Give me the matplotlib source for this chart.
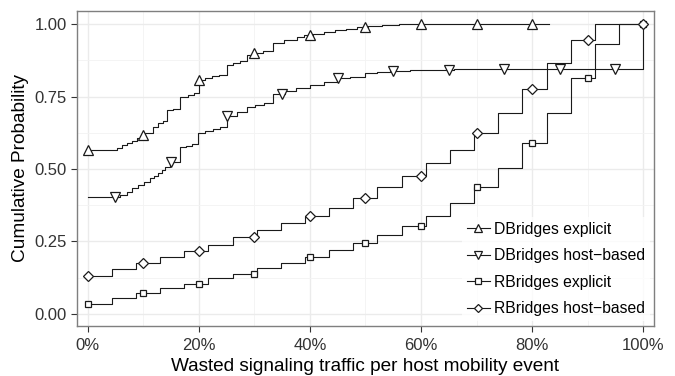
import numpy as np
import matplotlib
matplotlib.use("Agg")
import matplotlib.pyplot as plt
from matplotlib.ticker import MultipleLocator, FuncFormatter

plt.rcParams['font.family'] = ['Liberation Sans', 'DejaVu Sans']

# ---- data (percent on x, cumulative probability on y; post-step) ----
x_de = [0, 4.3, 5.2, 6.1, 7.0, 7.9, 8.8, 9.6, 10.4, 11.7, 12.6, 13.5, 14.3, 15.4, 16.6,
        18.0, 19.2, 20.0, 21.2, 22.3, 23.6, 25.0, 26.2, 27.4, 28.6, 30.0, 31.6, 33.4,
        35.4, 37.6, 39.0, 40.5, 42.5, 44.5, 46.5, 48.5, 50.5, 53.0, 56.0, 83.1]
y_de = [0.566, 0.566, 0.574, 0.582, 0.590, 0.598, 0.606, 0.616, 0.626, 0.644, 0.660, 0.666,
        0.704, 0.708, 0.748, 0.756, 0.764, 0.806, 0.814, 0.822, 0.826, 0.859, 0.866, 0.872,
        0.895, 0.902, 0.909, 0.937, 0.945, 0.957, 0.963, 0.968, 0.975, 0.980, 0.985, 0.990,
        0.994, 0.997, 1.0, 1.0]

x_dh = [0, 5.8, 7.0, 8.0, 9.1, 10.2, 11.2, 12.0, 12.7, 13.3, 13.9, 14.8, 16.6, 17.7, 18.8,
        19.9, 21.2, 22.5, 23.8, 25.0, 26.8, 28.6, 30.2, 31.8, 33.4, 35.5, 37.5, 40.0, 42.5,
        44.8, 47.3, 49.9, 52.0, 54.4, 58.0, 62.0, 66.0, 100.0]
y_dh = [0.403, 0.410, 0.422, 0.433, 0.445, 0.456, 0.468, 0.477, 0.486, 0.497, 0.508, 0.526,
        0.577, 0.581, 0.585, 0.624, 0.632, 0.640, 0.647, 0.683, 0.697, 0.715, 0.722, 0.729,
        0.759, 0.770, 0.780, 0.790, 0.802, 0.813, 0.818, 0.833, 0.836, 0.839, 0.841, 0.843,
        0.844, 1.0]

x_r = [0, 4.35, 8.70, 13.04, 17.39, 21.74, 26.09, 30.43, 34.78, 39.13, 43.48, 47.83, 52.17,
       56.52, 60.87, 65.22, 69.57, 73.91, 78.26, 82.61, 86.96, 91.30, 95.65, 100.0]
y_re = [0.034, 0.056, 0.071, 0.088, 0.104, 0.123, 0.139, 0.157, 0.177, 0.198, 0.221, 0.244,
        0.272, 0.304, 0.339, 0.384, 0.437, 0.503, 0.589, 0.695, 0.816, 0.931, 1.0, 1.0]
y_rh = [0.132, 0.155, 0.175, 0.195, 0.218, 0.238, 0.264, 0.290, 0.315, 0.338, 0.365, 0.400,
        0.439, 0.476, 0.520, 0.566, 0.624, 0.693, 0.776, 0.867, 0.946, 1.0, 1.0, 1.0]

mk_de = [0, 10, 20, 30, 40, 50, 60, 70, 80]
mk_dh = [5, 15, 25, 35, 45, 55, 65, 75, 85, 95]
mk_r = [0, 10, 20, 30, 40, 50, 60, 70, 80, 90, 100]

labels = ["DBridges explicit", "DBridges host\u2212based", "RBridges explicit", "RBridges host\u2212based"]
x_ticks = [0, 20, 40, 60, 80, 100]
y_ticks = [0.0, 0.25, 0.5, 0.75, 1.0]

series = [
    (x_de, y_de, mk_de, '^', 7.5),
    (x_dh, y_dh, mk_dh, 'v', 7.5),
    (x_r, y_re, mk_r, 's', 5.0),
    (x_r, y_rh, mk_r, 'D', 5.5),
]

fig = plt.figure(figsize=(6.75, 3.76), dpi=100)
ax = fig.add_axes([76.7/675, 1-326/376, (654.3-76.7)/675, (326-10.7)/376])

lc = '#1a1a1a'
handles = []
for (xs, ys, mks, m, ms), lab in zip(series, labels):
    xs = np.asarray(xs, float); ys = np.asarray(ys, float)
    ax.step(xs, ys, where='post', color=lc, lw=0.8, zorder=3)
    mx = np.asarray(mks, float)
    idx = np.searchsorted(xs, mx, side='right') - 1
    my = ys[idx]
    ax.plot(mx, my, linestyle='none', marker=m, ms=ms, mfc='white', mec=lc, mew=0.9, zorder=4)
    h, = ax.plot([], [], color=lc, lw=0.8, marker=m, ms=ms*0.8, mfc='white', mec=lc, mew=0.9)
    handles.append(h)

ax.set_xlim(-1.98, 102.0)
ax.set_ylim(-0.042, 1.047)
ax.xaxis.set_minor_locator(MultipleLocator(10))
ax.yaxis.set_minor_locator(MultipleLocator(0.125))
ax.set_xticks(x_ticks)
ax.set_yticks(y_ticks)
ax.xaxis.set_major_formatter(FuncFormatter(lambda v, p: f"{v:.0f}%"))
ax.yaxis.set_major_formatter(FuncFormatter(lambda v, p: f"{v:.2f}"))
ax.grid(which='major', color='#EBEBEB', lw=1.0, zorder=0)
ax.grid(which='minor', color='#F3F3F3', lw=0.6, zorder=0)
ax.set_axisbelow(True)
ax.tick_params(which='minor', length=0)
ax.tick_params(which='major', length=4.5, width=0.8, color='#333333', labelcolor='#333333',
               labelsize=12, pad=2.5)
ax.tick_params(axis='x', which='major', pad=4.5)
for s in ax.spines.values():
    s.set_color('#7f7f7f'); s.set_linewidth(1.0)

ax.set_xlabel("Wasted signaling traffic per host mobility event", fontsize=13.7, labelpad=3)
ax.set_ylabel("Cumulative Probability", fontsize=13.7, labelpad=4)

leg = ax.legend(handles, labels, loc='upper left', bbox_to_anchor=(0.667, 0.346),
                frameon=True, fontsize=11.3, handlelength=1.5, handletextpad=0.25,
                labelspacing=0.74, borderpad=0.3, borderaxespad=0)
leg.get_frame().set_facecolor('white')
leg.get_frame().set_edgecolor('none')
leg.get_frame().set_boxstyle('square', pad=0)

fig.savefig("out.png", dpi=100)
